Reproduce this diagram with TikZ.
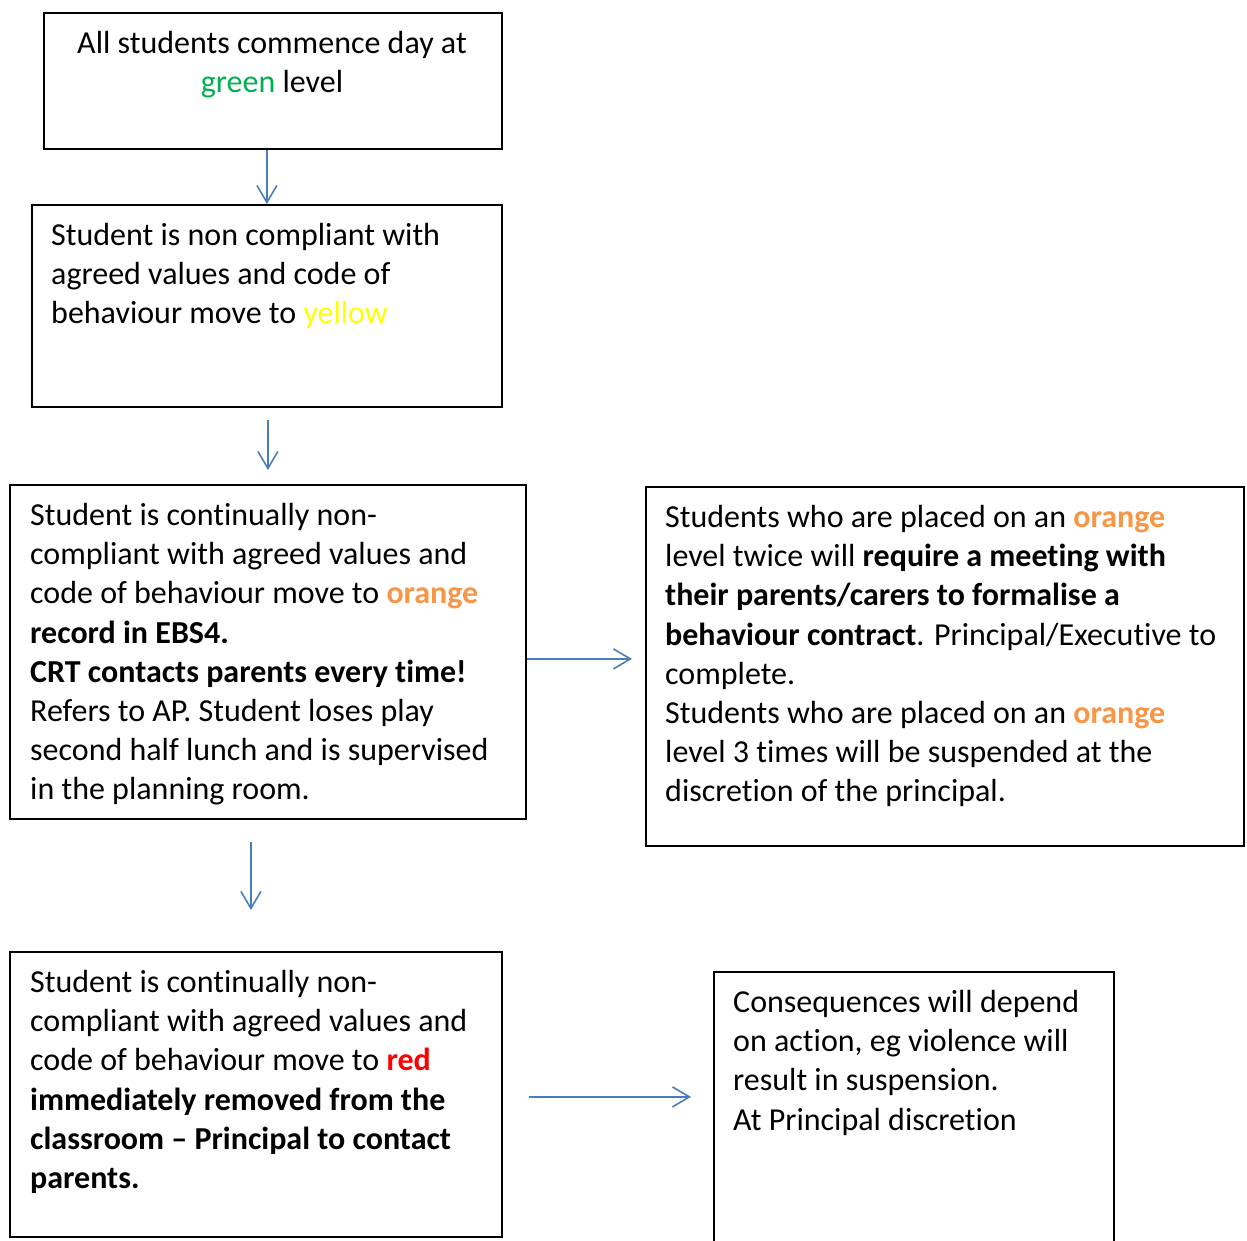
\documentclass[tikz,border=0pt]{standalone}
\usepackage{fontspec}
\setmainfont{Carlito}[Ligatures={NoCommon,NoContextual}]
\usetikzlibrary{arrows.meta}
\definecolor{arrowblue}{HTML}{4A7EBB}
\definecolor{lvlgreen}{HTML}{00B050}
\definecolor{lvlyellow}{HTML}{FFFF00}
\definecolor{lvlorange}{HTML}{F79646}
\definecolor{lvlred}{HTML}{FF0000}
\begin{document}
\begin{tikzpicture}[x=1pt,y=-1pt,
  box/.style={draw=black, line width=1.8pt, fill=none, inner sep=0pt, anchor=north west},
  txt/.style={font=\fontsize{32}{39.2}\selectfont, inner sep=0pt, align=left, anchor=north west},
  arr/.style={draw=arrowblue, line width=1.6pt, -{Straight Barb[length=17pt,width=20pt,line width=1.6pt]}}]
\useasboundingbox (0,0) rectangle (1247,1241);
\clip (0,0) rectangle (1247,1241);
% boxes
\node[box, minimum width=458pt, minimum height=136pt] (b1) at (43,12) {};
\node[box, minimum width=470pt, minimum height=202pt] (b2) at (31,204) {};
\node[box, minimum width=516pt, minimum height=334pt] (b3) at (9,484) {};
\node[box, minimum width=598pt, minimum height=359pt] (b4) at (645,486) {};
\node[box, minimum width=492pt, minimum height=285pt] (b5) at (9,951) {};
\node[box, minimum width=400pt, minimum height=320pt] (b6) at (713,971) {};
% texts
\node[txt, align=center, anchor=north] (t1) at (272,31) {All students commence day at\\ \textcolor{lvlgreen}{green} level};
\node[txt] (t2) at (51,223) {Student is non compliant with\\ agreed values and code of\\ behaviour move to \textcolor{lvlyellow}{yellow}};
\node[txt] (t3) at (30,503) {Student is continually non-\\ compliant with agreed values and\\ code of behaviour move to \textbf{\textcolor{lvlorange}{orange}}\\ \textbf{record in EBS4.}\\ \textbf{CRT contacts parents every time!}\\ Refers to AP. Student loses play\\ second half lunch and is supervised\\ in the planning room.};
\node[txt] (t4) at (665,505) {Students who are placed on an \textbf{\textcolor{lvlorange}{orange}}\\ level twice will \textbf{require a meeting with}\\ \textbf{their parents/carers to formalise a}\\ \textbf{behaviour contract}. Principal/Executive to\\ complete.\\ Students who are placed on an \textbf{\textcolor{lvlorange}{orange}}\\ level 3 times will be suspended at the\\ discretion of the principal.};
\node[txt] (t5) at (30,970) {Student is continually non-\\ compliant with agreed values and\\ code of behaviour move to \textbf{\textcolor{lvlred}{red}}\\ \textbf{immediately removed from the}\\ \textbf{classroom – Principal to contact}\\ \textbf{parents.}};
\node[txt] (t6) at (733,990) {Consequences will depend\\ on action, eg violence will\\ result in suspension.\\ At Principal discretion};
% arrows
\draw[arr] (b1.south -| b2.north) -- (b2.north);
\draw[arr, shorten <=12pt, shorten >=14pt] ([xshift=1pt]b2.south) -- ([xshift=1pt]b2.south |- b3.north);
\draw[arr, shorten >=13pt] ([yshift=-7pt]b3.east) -- ([yshift=-7pt]b3.east -| b4.west);
\draw[arr, shorten <=22pt, shorten >=41pt] ([xshift=-17pt]b3.south) -- ([xshift=-17pt]b3.south |- b5.north);
\draw[arr, shorten <=26pt, shorten >=22pt] ([yshift=-2.5pt]b5.east) -- ([yshift=-2.5pt]b5.east -| b6.west);
\end{tikzpicture}
\end{document}
